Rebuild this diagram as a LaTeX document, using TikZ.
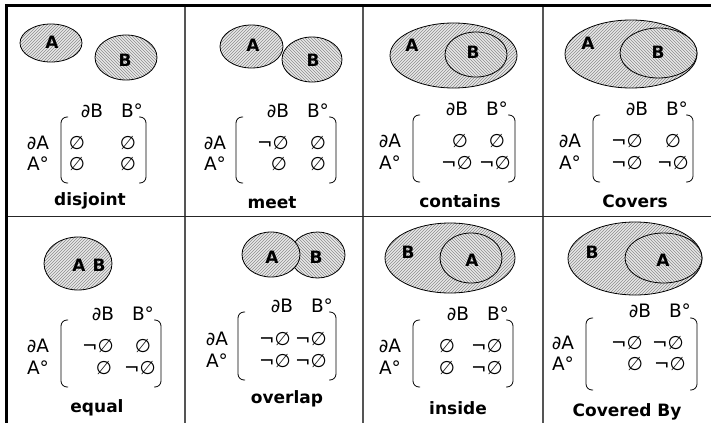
\documentclass[tikz,border=0pt]{standalone}
\usepackage{fontspec}
\setmainfont{DejaVu Sans}
\usetikzlibrary{patterns}
\definecolor{ellfill}{HTML}{E8E8E8}
\definecolor{hatchc}{HTML}{8C8C8C}
\definecolor{divc}{HTML}{555555}
\tikzset{
  every node/.style={inner sep=0pt, outer sep=0pt},
  mt/.style={font=\fontsize{18.5}{22}\selectfont},
  lab/.style={font=\fontsize{17}{20}\selectfont\bfseries},
  elab/.style={font=\fontsize{17}{20}\selectfont\bfseries},
  brk/.style={line width=0.8pt, rounded corners=6pt},
  ellA/.style={line width=0.8pt, preaction={fill=ellfill}, pattern=north east lines, pattern color=hatchc},
  ellB/.style={line width=0.8pt, preaction={fill=ellfill}, pattern=north west lines, pattern color=hatchc},
}
\newcommand\mybrk[4]{%
  \draw[brk] (#1+7,#3) -- (#1,#3) -- (#1,#4) -- (#1+7,#4);
  \draw[brk] (#2-7,#3) -- (#2,#3) -- (#2,#4) -- (#2-7,#4);}
\begin{document}
\begin{tikzpicture}[x=1pt,y=-1pt]
\useasboundingbox (0,0) rectangle (711,423);
% grid
\draw[divc, line width=1.6pt] (185,7) -- (185,423);
\draw[divc, line width=1.6pt] (363,7) -- (363,423);
\draw[divc, line width=1.6pt] (543,7) -- (543,423);
\draw[black!85, line width=1.4pt] (8,216.5) -- (711,216.5);
\draw[line width=3.5pt] (4.75,5.5) -- (711,5.5);
\draw[line width=3.5pt] (6.5,4) -- (6.5,423);

% ---------- cell 1: disjoint
\draw[ellA] (51,43) ellipse [x radius=31pt, y radius=19pt];
\draw[ellB] (126,57.5) ellipse [x radius=31pt, y radius=22.5pt];
\node[elab] (c1a) at (52,42) {A};
\node[elab] (c1b) at (125,60) {B};
\node[mt] (c1hb) at (92,111) {∂B};
\node[mt] (c1hi) at (132,111) {B°};
\node[mt] (c1ra) at (38,143) {∂A};
\node[mt] (c1ri) at (38,164) {A°};
\node[mt] (c1e11) at (77,143) {∅};
\node[mt] (c1e12) at (128,143) {∅};
\node[mt] (c1e21) at (77,164) {∅};
\node[mt] (c1e22) at (128,164) {∅};
\mybrk{61}{146}{117}{183}
\node[lab] (c1l) at (90,201) {disjoint};

% ---------- cell 2: meet
\draw[ellA] (251.5,46.5) ellipse [x radius=31.5pt, y radius=21.5pt];
\draw[ellB] (312,59.5) ellipse [x radius=30pt, y radius=22.5pt];
\node[elab] (c2a) at (253,45) {A};
\node[elab] (c2b) at (313,60) {B};
\node[mt] (c2hb) at (278,111) {∂B};
\node[mt] (c2hi) at (318,111) {B°};
\node[mt] (c2ra) at (215,143) {∂A};
\node[mt] (c2ri) at (215,164) {A°};
\node[mt] (c2e11) at (273,143) {¬∅};
\node[mt] (c2e12) at (318,143) {∅};
\node[mt] (c2e21) at (279,164) {∅};
\node[mt] (c2e22) at (318,164) {∅};
\mybrk{236}{336}{117}{183}
\node[lab] (c2l) at (272,203) {meet};

% ---------- cell 3: contains
\draw[ellA] (453.5,55.5) ellipse [x radius=63.5pt, y radius=32.5pt];
\draw[ellB] (476,54.5) ellipse [x radius=31pt, y radius=22.5pt];
\node[elab] (c3a) at (412,45) {A};
\node[elab] (c3b) at (473,52) {B};
\node[mt] (c3hb) at (457,109) {∂B};
\node[mt] (c3hi) at (497,109) {B°};
\node[mt] (c3ra) at (390,141) {∂A};
\node[mt] (c3ri) at (390,163) {A°};
\node[mt] (c3e11) at (460,141) {∅};
\node[mt] (c3e12) at (497,141) {∅};
\node[mt] (c3e21) at (457,163) {¬∅};
\node[mt] (c3e22) at (495,163) {¬∅};
\mybrk{413}{515}{115}{182}
\node[lab] (c3l) at (460,201) {contains};

% ---------- cell 4: Covers
\draw[ellA] (631,54) ellipse [x radius=66pt, y radius=34pt];
\draw[ellB] (658.5,53) ellipse [x radius=38.5pt, y radius=25pt];
\node[elab] (c4a) at (588,43) {A};
\node[elab] (c4b) at (658,52) {B};
\node[mt] (c4hb) at (637,109) {∂B};
\node[mt] (c4hi) at (677,109) {B°};
\node[mt] (c4ra) at (570,141) {∂A};
\node[mt] (c4ri) at (570,163) {A°};
\node[mt] (c4e11) at (627,141) {¬∅};
\node[mt] (c4e12) at (673,141) {∅};
\node[mt] (c4e21) at (627,163) {¬∅};
\node[mt] (c4e22) at (673,163) {¬∅};
\mybrk{593}{693}{115}{182}
\node[lab] (c4l) at (635,201) {Covers};

% ---------- cell 5: equal
\draw[ellA] (78,263.5) ellipse [x radius=34pt, y radius=26.5pt];
\node[elab] (c5a) at (79,265) {A};
\node[elab] (c5b) at (99,265) {B};
\node[mt] (c5hb) at (103,314) {∂B};
\node[mt] (c5hi) at (143,314) {B°};
\node[mt] (c5ra) at (38,346) {∂A};
\node[mt] (c5ri) at (38,368) {A°};
\node[mt] (c5e11) at (98,346) {¬∅};
\node[mt] (c5e12) at (143,346) {∅};
\node[mt] (c5e21) at (104,368) {∅};
\node[mt] (c5e22) at (140,368) {¬∅};
\mybrk{61}{161}{320}{387}
\node[lab] (c5l) at (97,408) {equal};

% ---------- cell 6: overlap
\draw[ellB] (317.5,255) ellipse [x radius=27.5pt, y radius=23pt];
\draw[ellA] (271,254.5) ellipse [x radius=29pt, y radius=22.5pt];
\node[elab] (c6a) at (272,257) {A};
\node[elab] (c6b) at (316,257) {B};
\node[mt] (c6hb) at (282,306) {∂B};
\node[mt] (c6hi) at (322,306) {B°};
\node[mt] (c6ra) at (217,339) {∂A};
\node[mt] (c6ri) at (217,361) {A°};
\node[mt] (c6e11) at (275,339) {¬∅};
\node[mt] (c6e12) at (311,339) {¬∅};
\node[mt] (c6e21) at (275,361) {¬∅};
\node[mt] (c6e22) at (311,361) {¬∅};
\mybrk{238}{336}{312}{380}
\node[lab] (c6l) at (287,399) {overlap};

% ---------- cell 7: inside
\draw[ellA] (450,258) ellipse [x radius=65pt, y radius=35pt];
\draw[ellB] (471,258) ellipse [x radius=31pt, y radius=25pt];
\node[elab] (c7b) at (408,252) {B};
\node[elab] (c7a) at (472,260) {A};
\node[mt] (c7hb) at (458,314) {∂B};
\node[mt] (c7hi) at (498,314) {B°};
\node[mt] (c7ra) at (390,346) {∂A};
\node[mt] (c7ri) at (390,368) {A°};
\node[mt] (c7e11) at (447,346) {∅};
\node[mt] (c7e12) at (487,346) {¬∅};
\node[mt] (c7e21) at (447,368) {∅};
\node[mt] (c7e22) at (487,368) {¬∅};
\mybrk{413}{513}{320}{387}
\node[lab] (c7l) at (458,408) {inside};

% ---------- cell 8: Covered By
\draw[ellA] (635,258.5) ellipse [x radius=67pt, y radius=36.5pt];
\draw[ellB] (663.5,258) ellipse [x radius=38.5pt, y radius=25pt];
\node[elab] (c8b) at (592,252) {B};
\node[elab] (c8a) at (663,260) {A};
\node[mt] (c8hb) at (640,311) {∂B};
\node[mt] (c8hi) at (680,311) {B°};
\node[mt] (c8ra) at (563,343) {∂A};
\node[mt] (c8ri) at (563,364) {A°};
\node[mt] (c8e11) at (627,343) {¬∅};
\node[mt] (c8e12) at (668,343) {¬∅};
\node[mt] (c8e21) at (635,364) {∅};
\node[mt] (c8e22) at (670,364) {¬∅};
\mybrk{586}{697}{318}{390}
\node[lab] (c8l) at (627,412) {Covered By};
\end{tikzpicture}
\end{document}
